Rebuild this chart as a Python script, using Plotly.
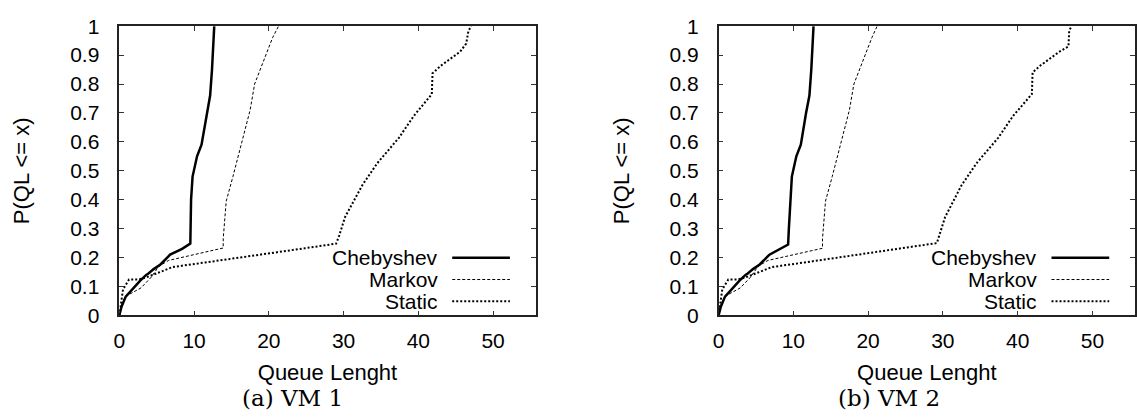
import plotly.graph_objects as go

# ---------------- data ----------------
# VM 1
cheb1_x = [0, 0.3, 0.86, 1.2, 2.0, 2.8, 3.6, 3.9, 4.6, 5.5, 6.8, 8.4, 9.5, 9.5, 9.6, 9.8, 10.4, 11.0, 11.7, 12.15, 12.4, 12.7]
cheb1_p = [0, 0.03, 0.065, 0.075, 0.095, 0.12, 0.14, 0.145, 0.16, 0.176, 0.21, 0.23, 0.248, 0.30, 0.40, 0.48, 0.55, 0.59, 0.70, 0.76, 0.85, 1.0]
mark1_x = [0, 0.2, 0.86, 1.5, 2.9, 4.2, 5.3, 6.6, 13.9, 13.9, 14.3, 15.2, 16.4, 17.5, 18.1, 19.5, 20.5, 21.3]
mark1_p = [0, 0.03, 0.066, 0.075, 0.095, 0.13, 0.17, 0.19, 0.233, 0.265, 0.395, 0.48, 0.60, 0.71, 0.80, 0.895, 0.96, 1.0]
stat1_x = [0, 0.1, 0.5, 1.3, 2.6, 3.9, 7.1, 11.5, 15.9, 20.4, 24.8, 29.0, 29.4, 30.2, 32.5, 34.5, 37.4, 39.4, 41.8, 41.9, 43.0, 45.6, 46.4, 46.7, 47.1]
stat1_p = [0, 0.02, 0.09, 0.124, 0.124, 0.134, 0.167, 0.183, 0.2, 0.216, 0.232, 0.248, 0.275, 0.34, 0.45, 0.526, 0.614, 0.69, 0.765, 0.837, 0.863, 0.912, 0.94, 0.984, 1.0]

# VM 2
cheb2_x = [0, 0.3, 0.86, 1.2, 2.0, 2.8, 3.6, 3.9, 4.6, 5.5, 6.8, 8.3, 9.3, 9.4, 9.6, 9.8, 10.4, 11.0, 11.7, 12.15, 12.4, 12.7]
cheb2_p = [0, 0.03, 0.065, 0.075, 0.095, 0.12, 0.14, 0.145, 0.16, 0.176, 0.21, 0.23, 0.245, 0.30, 0.40, 0.48, 0.55, 0.59, 0.70, 0.76, 0.85, 1.0]
mark2_x = [0, 0.2, 0.86, 1.5, 2.9, 4.2, 5.3, 6.6, 13.9, 13.9, 14.3, 15.2, 16.4, 17.5, 18.1, 19.5, 20.5, 21.2]
mark2_p = [0, 0.03, 0.066, 0.075, 0.095, 0.13, 0.17, 0.19, 0.232, 0.265, 0.395, 0.48, 0.60, 0.71, 0.80, 0.895, 0.96, 1.0]
stat2_x = [0, 0.1, 0.5, 1.3, 2.6, 3.9, 7.1, 11.5, 15.9, 20.4, 24.8, 29.2, 29.5, 30.3, 32.5, 34.5, 37.4, 39.4, 41.9, 42.0, 43.0, 45.6, 46.8, 46.9, 47.2]
stat2_p = [0, 0.02, 0.09, 0.124, 0.124, 0.134, 0.167, 0.183, 0.2, 0.216, 0.232, 0.25, 0.275, 0.34, 0.45, 0.526, 0.614, 0.69, 0.765, 0.84, 0.863, 0.912, 0.93, 0.984, 1.0]

series_names = ["Chebyshev", "Markov", "Static"]
captions = ["(a) VM 1", "(b) VM 2"]
x_title = "Queue Lenght"
y_title = "P(QL <= x)"
x_ticks = [0, 10, 20, 30, 40, 50]
y_ticks = [0, 0.1, 0.2, 0.3, 0.4, 0.5, 0.6, 0.7, 0.8, 0.9, 1]

# ---------------- styling ----------------
W, H = 1137, 419
styles = [dict(color="black", width=2.5, dash="solid"),
          dict(color="black", width=1, dash="3px,2px"),
          dict(color="black", width=2, dash="2px,2px")]
FONT = "Liberation Sans"

fig = go.Figure()
panels = [
    [(cheb1_x, cheb1_p), (mark1_x, mark1_p), (stat1_x, stat1_p)],
    [(cheb2_x, cheb2_p), (mark2_x, mark2_p), (stat2_x, stat2_p)],
]
axes_ids = [("x", "y"), ("x2", "y2")]
for (xa, ya), data in zip(axes_ids, panels):
    for name, (xs, ps), st in zip(series_names, data, styles):
        fig.add_trace(go.Scatter(x=xs, y=ps, mode="lines", name=name, line=st,
                                 xaxis=xa, yaxis=ya, showlegend=False))

# pixel geometry of plot areas
px_left = [114, 717]
px_w = 419
py_top, py_bot = 15, 321
yd = [1 - py_bot / H, 1 - py_top / H]

common_x = dict(range=[0, 55.7], tickvals=x_ticks, ticks="inside", ticklen=5, tickwidth=1,
                tickcolor="#333", showline=True, linecolor="#222", linewidth=1.5, mirror="allticks",
                showgrid=False, zeroline=False, tickfont=dict(family=FONT, size=21, color="black"),
                ticklabelstandoff=6,
                title=dict(text=x_title, font=dict(family=FONT, size=22, color="black"), standoff=13))
common_y = dict(range=[0, 1], tickvals=y_ticks, ticks="inside", ticklen=5, tickwidth=1,
                tickcolor="#333", showline=True, linecolor="#222", linewidth=1.5, mirror="allticks",
                showgrid=False, zeroline=False, tickfont=dict(family=FONT, size=21, color="black"),
                ticklabelstandoff=14,
                title=dict(text=y_title, font=dict(family=FONT, size=22, color="black"), standoff=34))

fig.update_layout(
    width=W, height=H, margin=dict(l=0, r=0, t=0, b=0),
    paper_bgcolor="white", plot_bgcolor="white",
    xaxis=dict(common_x, domain=[px_left[0] / W, (px_left[0] + px_w) / W], anchor="y"),
    yaxis=dict(common_y, domain=yd, anchor="x"),
    xaxis2=dict(common_x, domain=[px_left[1] / W, (px_left[1] + px_w) / W], anchor="y2"),
    yaxis2=dict(common_y, domain=yd, anchor="x2"),
)

# legend drawn inside each panel (text right-aligned, sample on the right)
leg_y = [0.199, 0.124, 0.049]
for (xa, ya) in axes_ids:
    for name, st, ly in zip(series_names, styles, leg_y):
        fig.add_annotation(text=name, xref=f"{xa} domain", yref=f"{ya} domain",
                           x=0.768, y=ly, xanchor="right", yanchor="middle", showarrow=False,
                           borderpad=0, font=dict(family=FONT, size=21, color="black"))
        fig.add_shape(type="line", xref=f"{xa} domain", yref=f"{ya} domain",
                      x0=0.7995, x1=0.938, y0=ly, y1=ly, line=st)

# captions
cap_cx = [288, 888]
for cx, cap in zip(cap_cx, captions):
    fig.add_annotation(text=cap, xref="paper", yref="paper", x=cx / W, y=0,
                       xanchor="center", yanchor="bottom", showarrow=False, yshift=-4,
                       borderpad=0, font=dict(family="DejaVu Serif", size=23, color="black"))

fig.write_html("out.html")
